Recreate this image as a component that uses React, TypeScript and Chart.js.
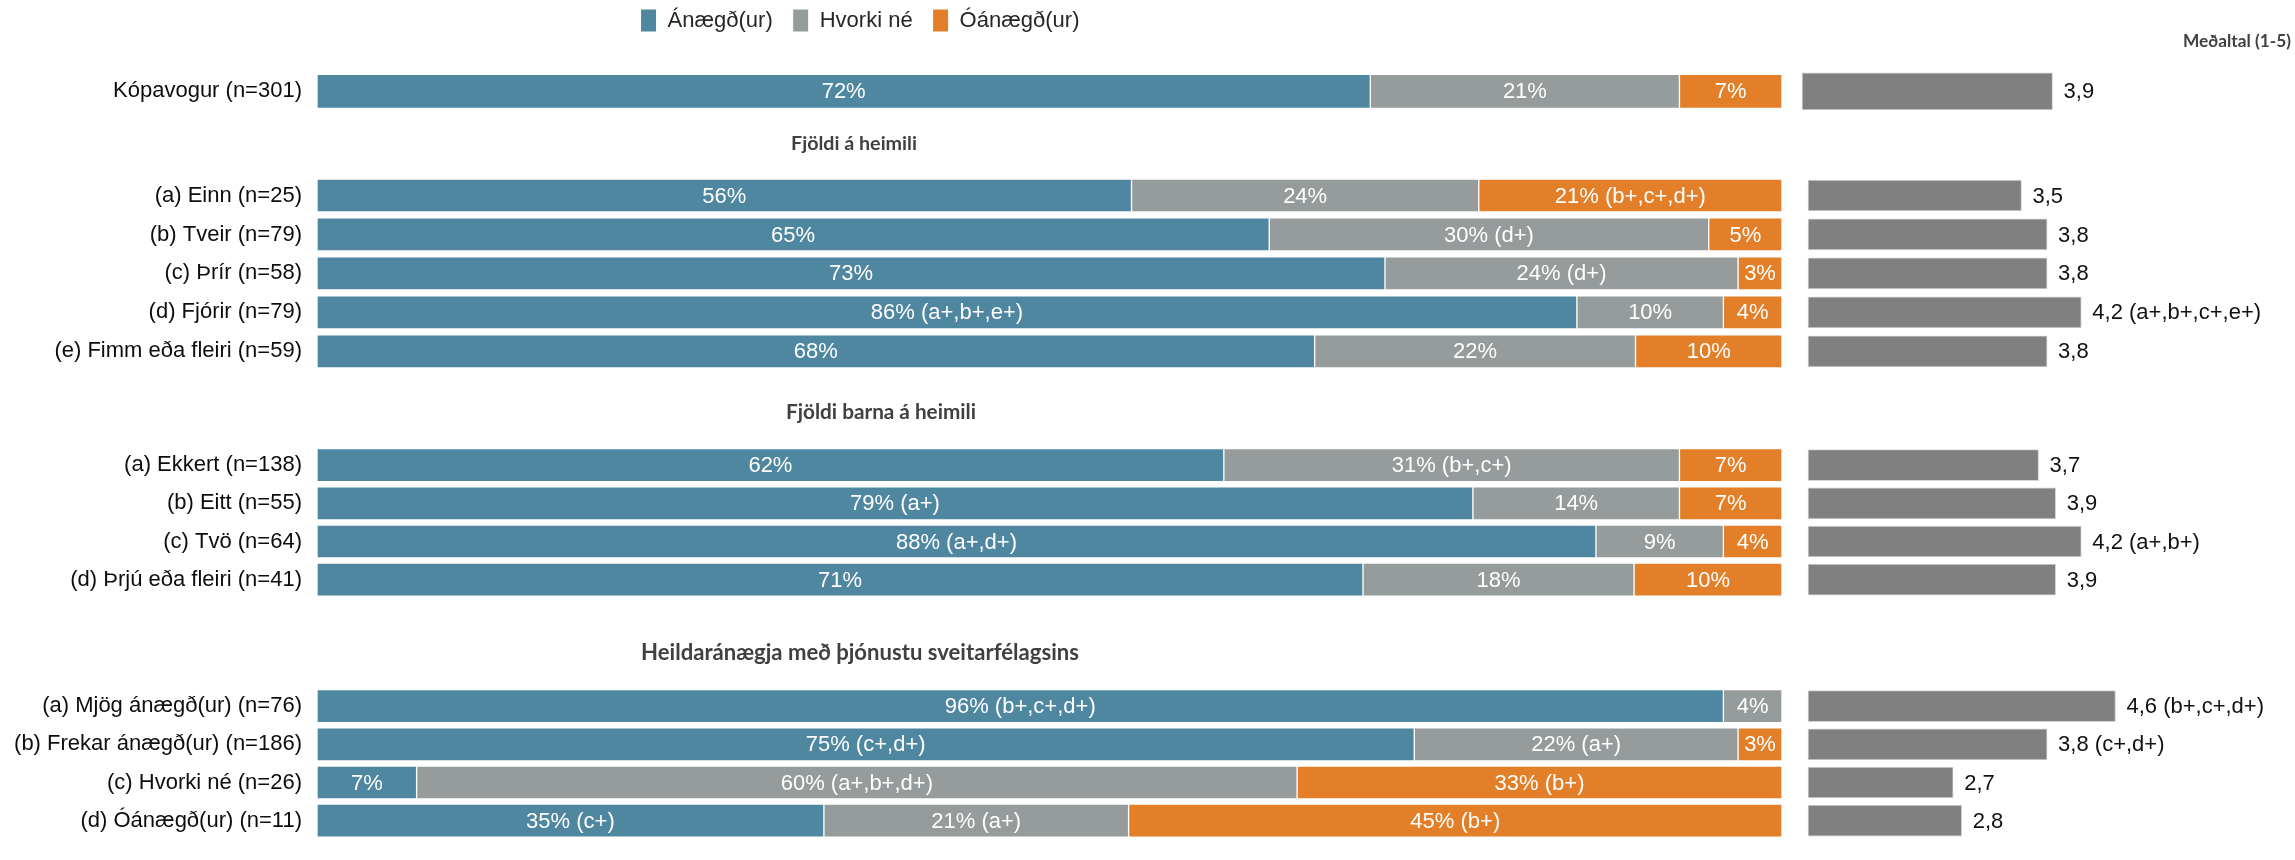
import React, { useEffect, useRef } from 'react';
import { Chart, registerables } from 'chart.js';

Chart.register(...registerables);

const FONT = "'Liberation Sans', Arial, Helvetica, sans-serif";
const HEAD_FONT = "Lato, 'Open Sans', sans-serif";
Chart.defaults.font.family = FONT;

// ---------- legend / series ----------
const seriesNames = ['Ánægð(ur)', 'Hvorki né', 'Óánægð(ur)'];
const seriesColors = ['#4f87a1', '#969b9c', '#e27f28'];
const meanColor = '#808080';
const meanTitle = 'Meðaltal (1-5)';

// ---------- Kópavogur total ----------
const totalCategories = ['Kópavogur (n=301)'];
const totalSatisfied = [71.9];
const totalNeutral = [21.1];
const totalDissatisfied = [7.0];
const totalSatisfiedText = ['72%'];
const totalNeutralText = ['21%'];
const totalDissatisfiedText = ['7%'];
const totalMeans = [3.9];
const totalMeanSig = [''];

// ---------- Fjöldi á heimili ----------
const householdTitle = 'Fjöldi á heimili';
const householdCategories = ['(a) Einn (n=25)', '(b) Tveir (n=79)', '(c) Þrír (n=58)', '(d) Fjórir (n=79)', '(e) Fimm eða fleiri (n=59)'];
const householdSatisfied = [55.6, 65.0, 72.9, 86.0, 68.1];
const householdNeutral = [23.7, 30.0, 24.1, 10.0, 21.9];
const householdDissatisfied = [20.7, 5.0, 3.0, 4.0, 10.0];
const householdSatisfiedText = ['56%', '65%', '73%', '86% (a+,b+,e+)', '68%'];
const householdNeutralText = ['24%', '30% (d+)', '24% (d+)', '10%', '22%'];
const householdDissatisfiedText = ['21% (b+,c+,d+)', '5%', '3%', '4%', '10%'];
const householdMeans = [3.5, 3.8, 3.8, 4.2, 3.8];
const householdMeanSig = ['', '', '', ' (a+,b+,c+,e+)', ''];

// ---------- Fjöldi barna á heimili ----------
const childrenTitle = 'Fjöldi barna á heimili';
const childrenCategories = ['(a) Ekkert (n=138)', '(b) Eitt (n=55)', '(c) Tvö (n=64)', '(d) Þrjú eða fleiri (n=41)'];
const childrenSatisfied = [61.9, 78.9, 87.3, 71.4];
const childrenNeutral = [31.1, 14.1, 8.7, 18.5];
const childrenDissatisfied = [7.0, 7.0, 4.0, 10.1];
const childrenSatisfiedText = ['62%', '79% (a+)', '88% (a+,d+)', '71%'];
const childrenNeutralText = ['31% (b+,c+)', '14%', '9%', '18%'];
const childrenDissatisfiedText = ['7%', '7%', '4%', '10%'];
const childrenMeans = [3.7, 3.9, 4.2, 3.9];
const childrenMeanSig = ['', '', ' (a+,b+)', ''];

// ---------- Heildaránægja ----------
const overallTitle = 'Heildaránægja með þjónustu sveitarfélagsins';
const overallCategories = ['(a) Mjög ánægð(ur) (n=76)', '(b) Frekar ánægð(ur) (n=186)', '(c) Hvorki né (n=26)', '(d) Óánægð(ur) (n=11)'];
const overallSatisfied = [96.0, 74.9, 6.8, 34.6];
const overallNeutral = [4.0, 22.1, 60.1, 20.8];
const overallDissatisfied = [0, 3.0, 33.1, 44.6];
const overallSatisfiedText = ['96% (b+,c+,d+)', '75% (c+,d+)', '7%', '35% (c+)'];
const overallNeutralText = ['4%', '22% (a+)', '60% (a+,b+,d+)', '21% (a+)'];
const overallDissatisfiedText = ['', '3%', '33% (b+)', '45% (b+)'];
const overallMeans = [4.6, 3.8, 2.7, 2.8];
const overallMeanSig = [' (b+,c+,d+)', ' (c+,d+)', '', ''];

// ---------- layout constants (pixels) ----------
const PAGE_W = 2295;
const AXIS_W = 317;
const PCT_END = 1782;
const MEAN_BASE = 1;

const fmtMean = (v: number, sig: string) => v.toFixed(1).replace('.', ',') + sig;

const barTextPlugin = {
  id: 'barTexts',
  afterDatasetsDraw(chart: any, _a: any, opts: any) {
    const ctx = chart.ctx;
    ctx.save();
    ctx.font = `22px ${FONT}`;
    ctx.textBaseline = 'middle';
    (opts.segments || []).forEach((texts: string[], di: number) => {
      const meta = chart.getDatasetMeta(di);
      meta.data.forEach((bar: any, i: number) => {
        const t = texts[i];
        if (!t) return;
        ctx.fillStyle = '#ffffff';
        ctx.textAlign = 'center';
        ctx.fillText(t, (bar.x + bar.base) / 2, bar.y + 1);
      });
    });
    if (opts.means) {
      const meta = chart.getDatasetMeta(3);
      meta.data.forEach((bar: any, i: number) => {
        ctx.fillStyle = '#111111';
        ctx.textAlign = 'left';
        ctx.fillText(opts.means[i], bar.x + 11, bar.y + 1);
      });
    }
    ctx.restore();
  },
};

const headingPlugin = {
  id: 'headings',
  afterDraw(chart: any, _a: any, opts: any) {
    const items = opts.items || [];
    const ctx = chart.ctx;
    ctx.save();
    ctx.fillStyle = '#404040';
    ctx.textAlign = 'center';
    ctx.textBaseline = 'middle';
    items.forEach((it: any) => {
      ctx.font = `bold 20px ${HEAD_FONT}`;
      const m = ctx.measureText(it.text).width;
      const size = it.w ? (20 * it.w) / m : 20;
      ctx.font = `bold ${size.toFixed(2)}px ${HEAD_FONT}`;
      ctx.fillText(it.text, it.x, it.y);
    });
    ctx.restore();
  },
};

const legendPlacePlugin = {
  id: 'legendPlace',
  afterLayout(chart: any, _a: any, opts: any) {
    const lg = chart.legend;
    if (!lg || opts.cx == null || !chart.options.plugins.legend.display) return;
    const w = lg.width;
    lg.left = opts.cx - w / 2;
    lg.right = lg.left + w;
    lg.top += opts.dy || 0;
    lg.bottom += opts.dy || 0;
  },
};

interface Section {
  top: number;
  height: number;
  padTop: number;
  barH: number;
  meanH: number;
  meanStart: number;
  meanPx: number;
  legend: boolean;
  categories: string[];
  satisfied: number[];
  neutral: number[];
  dissatisfied: number[];
  texts: string[][];
  means: number[];
  meanSig: string[];
  headings: any[];
}

const sections: Section[] = [
  {
    top: 0, height: 144, padTop: 14, barH: 34, meanH: 37, meanStart: 1802, meanPx: 86.4, legend: true,
    categories: totalCategories, satisfied: totalSatisfied, neutral: totalNeutral, dissatisfied: totalDissatisfied,
    texts: [totalSatisfiedText, totalNeutralText, totalDissatisfiedText],
    means: totalMeans, meanSig: totalMeanSig,
    headings: [{ text: meanTitle, x: 2237, y: 41, w: 108 }],
  },
  {
    top: 116, height: 283, padTop: 60, barH: 33, meanH: 31, meanStart: 1808, meanPx: 85.4, legend: false,
    categories: householdCategories, satisfied: householdSatisfied, neutral: householdNeutral, dissatisfied: householdDissatisfied,
    texts: [householdSatisfiedText, householdNeutralText, householdDissatisfiedText],
    means: householdMeans, meanSig: householdMeanSig,
    headings: [{ text: householdTitle, x: 854, y: 28, w: 126 }],
  },
  {
    top: 386, height: 241, padTop: 60, barH: 33, meanH: 31, meanStart: 1808, meanPx: 85.4, legend: false,
    categories: childrenCategories, satisfied: childrenSatisfied, neutral: childrenNeutral, dissatisfied: childrenDissatisfied,
    texts: [childrenSatisfiedText, childrenNeutralText, childrenDissatisfiedText],
    means: childrenMeans, meanSig: childrenMeanSig,
    headings: [{ text: childrenTitle, x: 881, y: 26, w: 190 }],
  },
  {
    top: 627, height: 241, padTop: 60, barH: 33, meanH: 31, meanStart: 1808, meanPx: 85.4, legend: false,
    categories: overallCategories, satisfied: overallSatisfied, neutral: overallNeutral, dissatisfied: overallDissatisfied,
    texts: [overallSatisfiedText, overallNeutralText, overallDissatisfiedText],
    means: overallMeans, meanSig: overallMeanSig,
    headings: [{ text: overallTitle, x: 860, y: 26, w: 438 }],
  },
];

function makeChart(canvas: HTMLCanvasElement, s: Section) {
  const caW = PAGE_W - AXIS_W;
  const xMax = (100 * caW) / (PCT_END - AXIS_W);
  const x2Min = MEAN_BASE - (s.meanStart - AXIS_W) / s.meanPx;
  const x2Max = x2Min + caW / s.meanPx;
  const shares = [s.satisfied, s.neutral, s.dissatisfied];
  const datasets: any[] = shares.map((d, k) => ({
    label: seriesNames[k],
    data: d,
    backgroundColor: seriesColors[k],
    borderColor: '#ffffff',
    borderWidth: 1,
    borderSkipped: false,
    barThickness: s.barH,
    xAxisID: 'x',
  }));
  datasets.push({
    label: meanTitle,
    data: s.means,
    backgroundColor: meanColor,
    borderColor: '#d4d4d4',
    borderWidth: 1,
    borderSkipped: false,
    barThickness: s.meanH,
    xAxisID: 'x2',
    base: MEAN_BASE,
  });

  return new Chart(canvas, {
    type: 'bar',
    data: { labels: s.categories, datasets },
    options: {
      indexAxis: 'y',
      animation: false,
      responsive: false,
      maintainAspectRatio: false,
      devicePixelRatio: 1,
      layout: { padding: { top: s.padTop, left: 0, right: 0, bottom: 0 } },
      scales: {
        y: {
          stacked: true,
          grid: { display: false, drawTicks: false },
          border: { display: false },
          ticks: { padding: 15, color: '#0d0d0d', font: { size: 22 }, autoSkip: false },
          afterFit: (scale: any) => {
            scale.width = AXIS_W;
          },
        },
        x: { type: 'linear', stacked: true, min: 0, max: xMax, display: false },
        x2: { type: 'linear', stacked: false, min: x2Min, max: x2Max, display: false },
      },
      plugins: {
        legend: {
          display: s.legend,
          position: 'top',
          labels: {
            boxWidth: 16,
            boxHeight: 23,
            padding: 20,
            color: '#262626',
            font: { size: 22 },
            filter: (item: any) => item.datasetIndex < 3,
          },
        },
        tooltip: { enabled: false },
        title: { display: false },
        barTexts: { segments: s.texts, means: s.means.map((v, i) => fmtMean(v, s.meanSig[i])) },
        headings: { items: s.headings },
        legendPlace: { cx: 860, dy: -25 },
      } as any,
    } as any,
    plugins: [barTextPlugin, headingPlugin, legendPlacePlugin],
  } as any);
}

function SectionCanvas({ section }: { section: Section }) {
  const ref = useRef<HTMLCanvasElement>(null);
  useEffect(() => {
    if (!ref.current) return;
    const chart = makeChart(ref.current, section);
    return () => chart.destroy();
  }, [section]);
  return (
    <canvas
      ref={ref}
      width={PAGE_W}
      height={section.height}
      style={{ position: 'absolute', left: 0, top: section.top, width: PAGE_W, height: section.height }}
    />
  );
}

export default function App() {
  return (
    <div
      style={{
        position: 'fixed',
        left: 0,
        top: 0,
        width: PAGE_W,
        height: 860,
        background: '#ffffff',
        overflow: 'hidden',
      }}
    >
      {sections.map((s, i) => (
        <SectionCanvas key={i} section={s} />
      ))}
    </div>
  );
}
